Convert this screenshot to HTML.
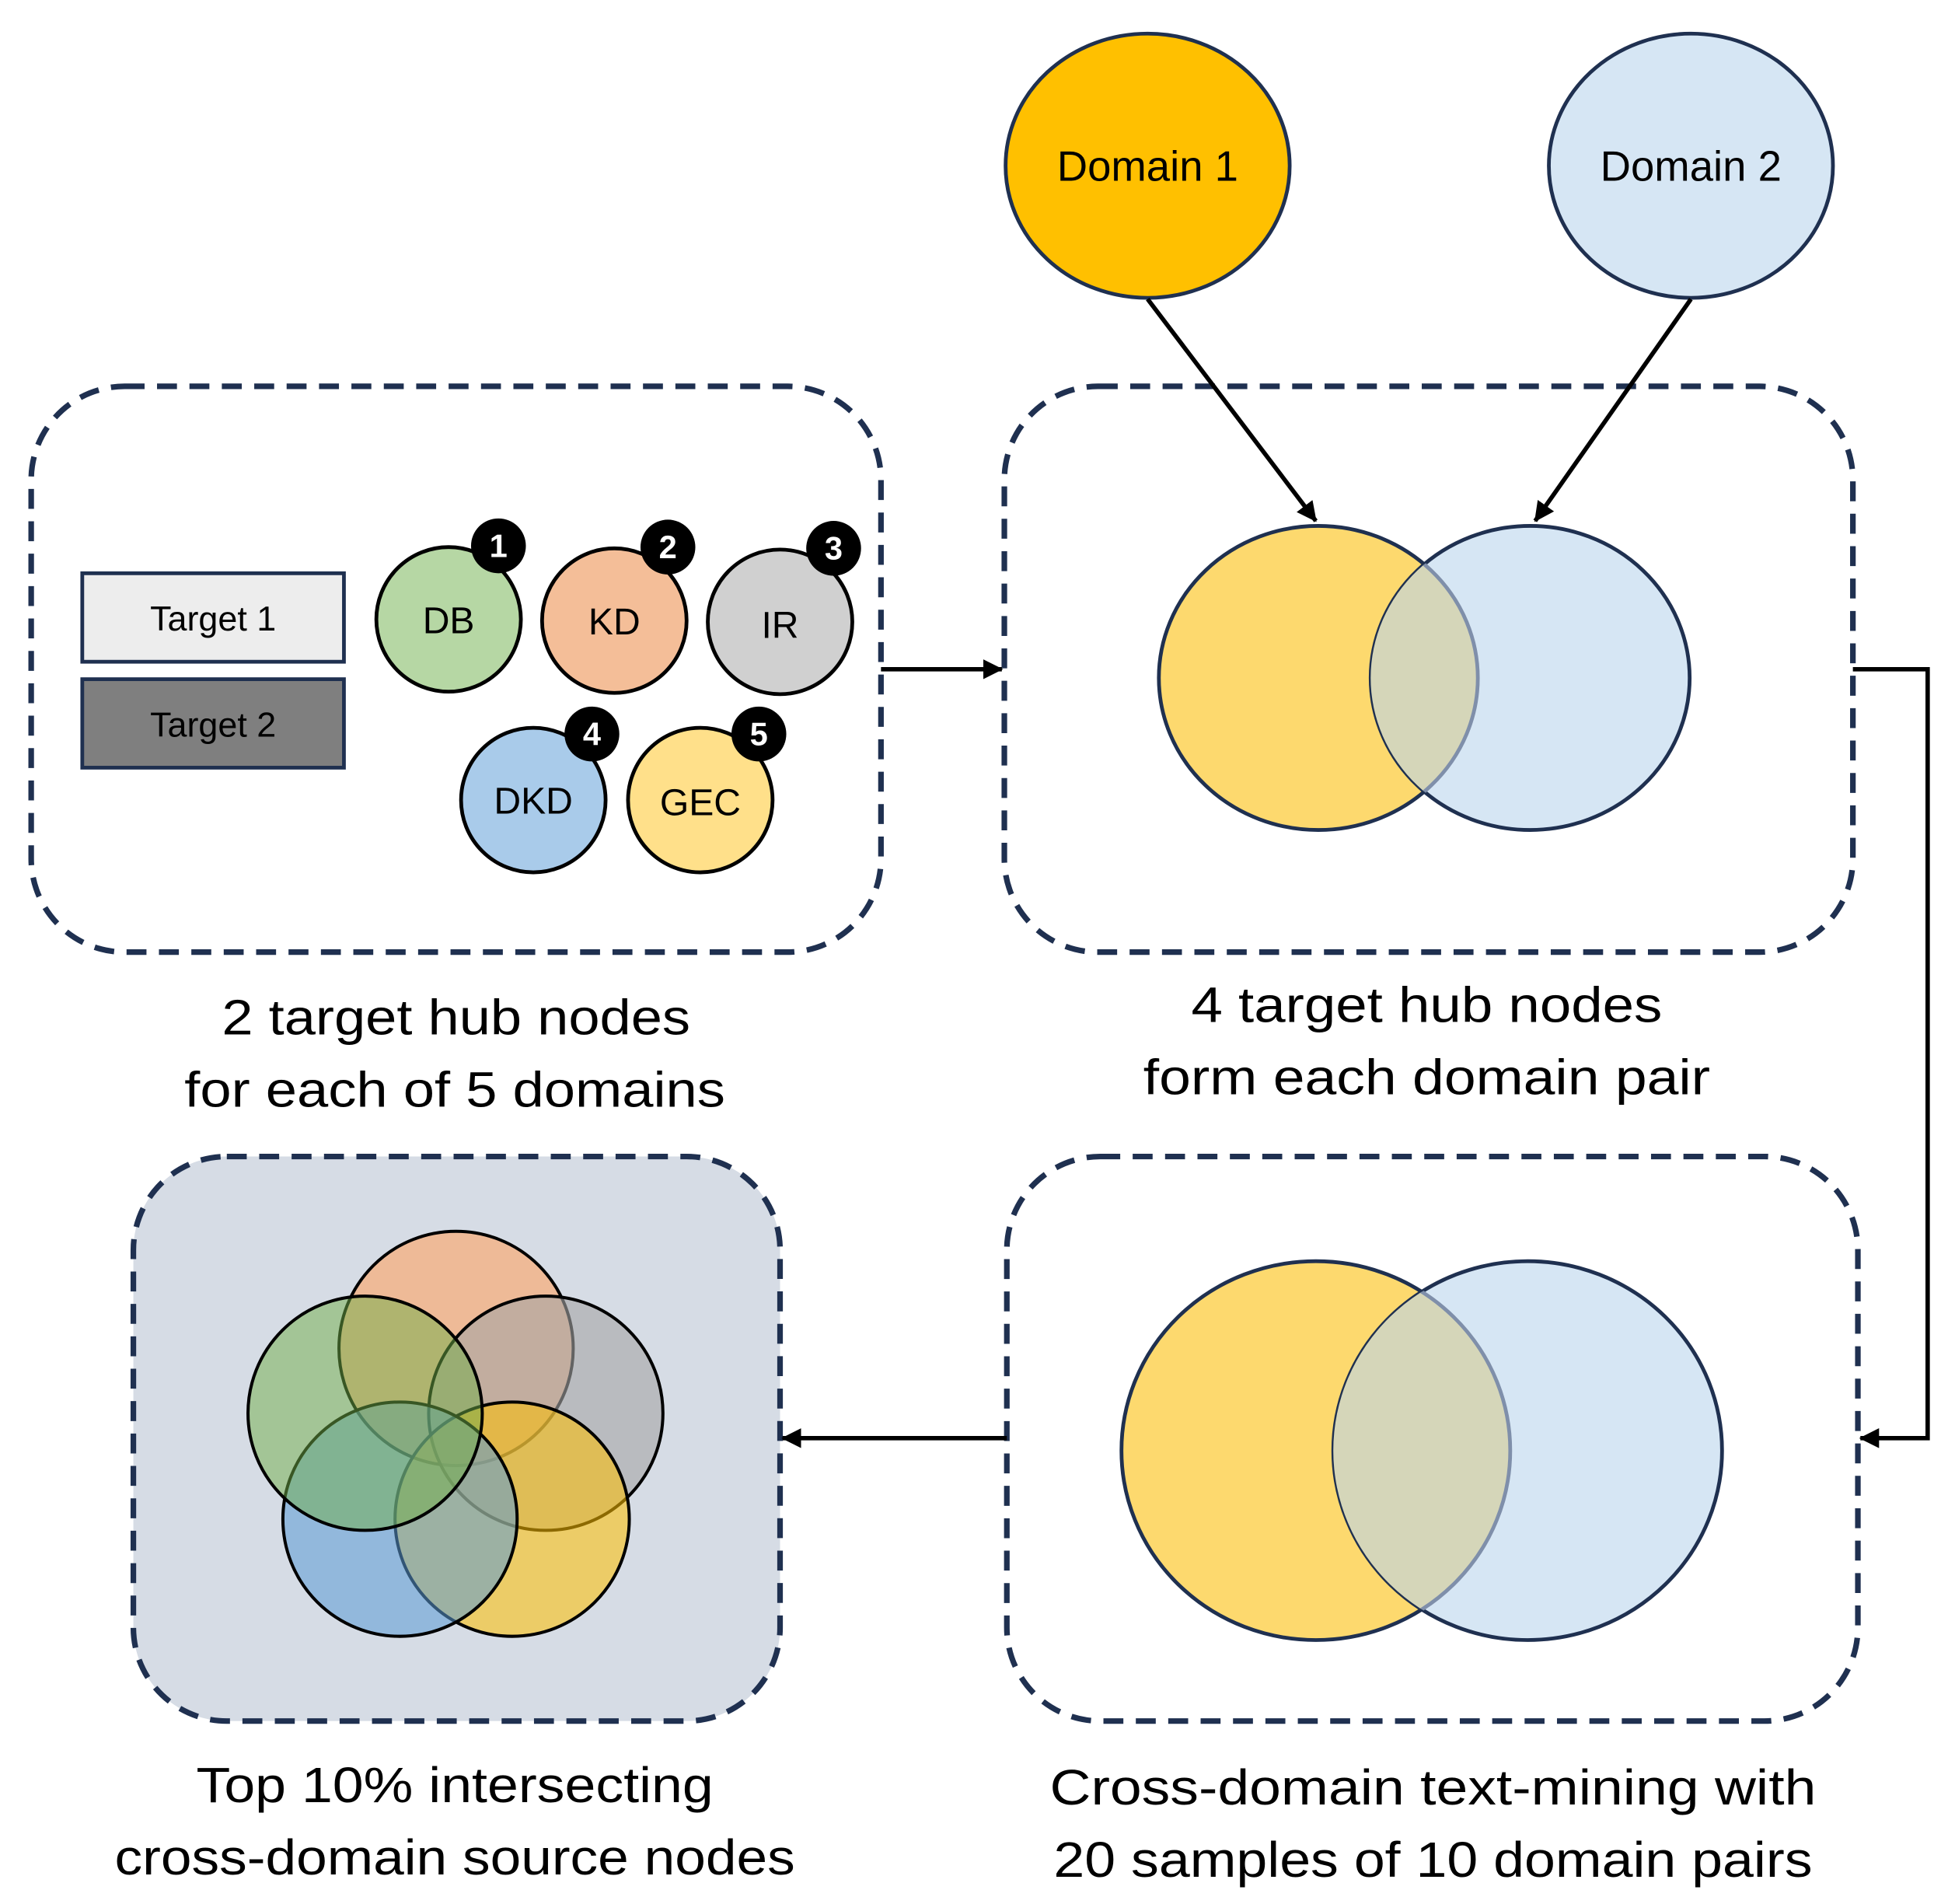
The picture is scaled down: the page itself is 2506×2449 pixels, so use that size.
<!DOCTYPE html>
<html><head><style>html,body{margin:0;padding:0;background:#fff}svg{display:block}</style></head>
<body>
<svg width="2506" height="2449" viewBox="0 0 1563.3 1527.8" xmlns="http://www.w3.org/2000/svg" font-family="'Liberation Sans', sans-serif">
<defs>
<marker id="ah2" markerWidth="16" markerHeight="16" refX="15" refY="8" orient="auto" markerUnits="userSpaceOnUse"><path d="M0,0 L16,8 L0,16 z" fill="#000"/></marker>
<clipPath id="c1"><ellipse cx="1228" cy="544" rx="128" ry="122"/></clipPath>
<clipPath id="c2"><ellipse cx="1226" cy="1164" rx="156" ry="152"/></clipPath>
</defs>
<g fill="none" stroke="#1F3050" stroke-width="4.5" stroke-dasharray="16 10">
<rect x="25" y="310" width="682" height="454" rx="75"/>
<rect x="806" y="310" width="681" height="454" rx="75"/>
<rect x="808" y="928" width="683" height="453" rx="75"/>
<rect x="107" y="928" width="519" height="453" rx="75" fill="#D6DCE5"/>
</g>
<ellipse cx="921" cy="133" rx="114" ry="106" fill="#FFC000" stroke="#1F3050" stroke-width="3"/>
<ellipse cx="1357" cy="133" rx="114" ry="106" fill="#D6E6F4" stroke="#1F3050" stroke-width="3"/>
<text x="921" y="145" font-size="34" text-anchor="middle">Domain 1</text>
<text x="1357" y="145" font-size="34" text-anchor="middle">Domain 2</text>
<g stroke="#000" stroke-width="3.5" fill="none">
<line x1="921" y1="240" x2="1056" y2="418" marker-end="url(#ah2)"/>
<line x1="1357" y1="240" x2="1232" y2="418" marker-end="url(#ah2)"/>
<line x1="707" y1="537" x2="804" y2="537" marker-end="url(#ah2)"/>
<polyline points="1487,537 1547,537 1547,1154 1493,1154" marker-end="url(#ah2)"/>
<line x1="808" y1="1154" x2="628" y2="1154" marker-end="url(#ah2)"/>
</g>
<ellipse cx="1058" cy="544" rx="128" ry="122" fill="#FDD96E" stroke="#1F3050" stroke-width="3"/>
<ellipse cx="1228" cy="544" rx="128" ry="122" fill="#D6E6F4" stroke="#1F3050" stroke-width="3"/>
<ellipse cx="1058" cy="544" rx="128" ry="122" fill="#D5D6B9" stroke="#7F8FAA" stroke-width="3" clip-path="url(#c1)"/>
<ellipse cx="1056" cy="1164" rx="156" ry="152" fill="#FDD96E" stroke="#1F3050" stroke-width="3"/>
<ellipse cx="1226" cy="1164" rx="156" ry="152" fill="#D6E6F4" stroke="#1F3050" stroke-width="3"/>
<ellipse cx="1056" cy="1164" rx="156" ry="152" fill="#D5D6B9" stroke="#7F8FAA" stroke-width="3" clip-path="url(#c2)"/>
<rect x="66" y="460" width="210" height="71" fill="#EDEDED" stroke="#1F3050" stroke-width="3"/>
<rect x="66" y="545" width="210" height="71" fill="#7F7F7F" stroke="#1F3050" stroke-width="3"/>
<text x="171" y="506" font-size="28" text-anchor="middle">Target 1</text>
<text x="171" y="591" font-size="28" text-anchor="middle">Target 2</text>
<g stroke="#000" stroke-width="3">
<circle cx="360" cy="497" r="58" fill="#B6D7A4"/>
<circle cx="493" cy="498" r="58" fill="#F4BE98"/>
<circle cx="626" cy="499" r="58" fill="#D0D0D0"/>
<circle cx="428" cy="642" r="58" fill="#A9CBEA"/>
<circle cx="562" cy="642" r="58" fill="#FFE08A"/>
</g>
<g font-size="30" text-anchor="middle">
<text x="360" y="508">DB</text><text x="493" y="509">KD</text><text x="626" y="512">IR</text>
<text x="428" y="653">DKD</text><text x="562" y="654">GEC</text>
</g>
<g fill="#000"><circle cx="400" cy="438" r="22"/><circle cx="536" cy="439" r="22"/><circle cx="669" cy="440" r="22"/><circle cx="475" cy="589" r="22"/><circle cx="609" cy="589" r="22"/></g>
<g fill="#fff" font-size="26" font-weight="bold" text-anchor="middle">
<text x="400" y="447">1</text><text x="536" y="448">2</text><text x="669" y="449">3</text><text x="475" y="598">4</text><text x="609" y="598">5</text>
</g>
<g stroke="#000" stroke-width="2.5">
<circle cx="366" cy="1082" r="94" fill="#F4B183" fill-opacity="0.8"/>
<circle cx="438" cy="1134" r="94" fill="#A5A5A5" fill-opacity="0.6"/>
<circle cx="411" cy="1219" r="94" fill="#FFC000" fill-opacity="0.55"/>
<circle cx="321" cy="1219" r="94" fill="#5B9BD5" fill-opacity="0.55"/>
<circle cx="293" cy="1134" r="94" fill="#70AD47" fill-opacity="0.5"/>
</g>
<g font-size="40" text-anchor="middle" fill="#000">
<text x="366" y="830" textLength="376" lengthAdjust="spacingAndGlyphs">2 target hub nodes</text>
<text x="365" y="888" textLength="434" lengthAdjust="spacingAndGlyphs">for each of 5 domains</text>
<text x="1145" y="820" textLength="378" lengthAdjust="spacingAndGlyphs">4 target hub nodes</text>
<text x="1145" y="878" textLength="455" lengthAdjust="spacingAndGlyphs">form each domain pair</text>
<text x="365" y="1446" textLength="415" lengthAdjust="spacingAndGlyphs">Top 10% intersecting</text>
<text x="365" y="1504" textLength="546" lengthAdjust="spacingAndGlyphs">cross-domain source nodes</text>
<text x="1150" y="1448" textLength="615" lengthAdjust="spacingAndGlyphs">Cross-domain text-mining with</text>
<text x="1150" y="1506" textLength="609" lengthAdjust="spacingAndGlyphs">20 samples of 10 domain pairs</text>
</g>
</svg>
</body></html>
